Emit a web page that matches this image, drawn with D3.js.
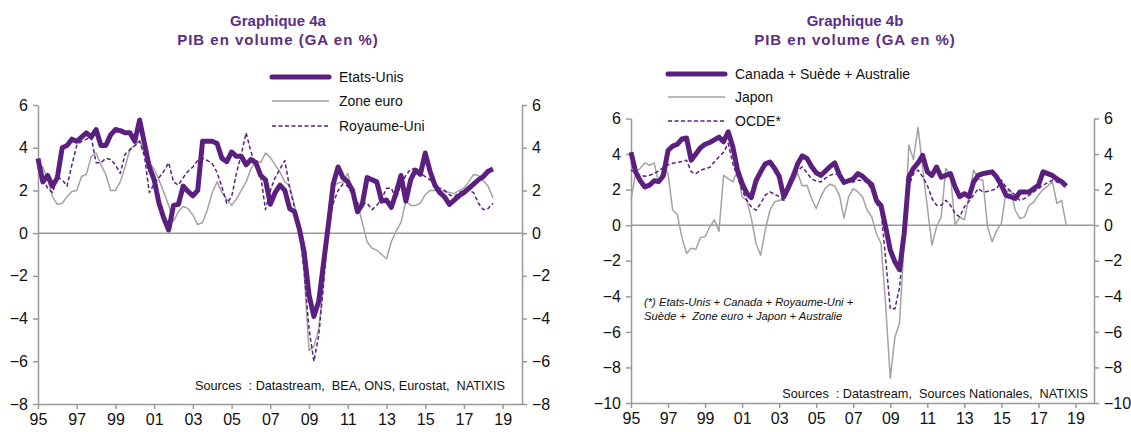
<!DOCTYPE html>
<html>
<head>
<meta charset="utf-8">
<script src="https://cdn.jsdelivr.net/npm/d3@7"></script>
<style>
  body { margin: 0; background: #fff; }
  svg { display: block; font-family: "Liberation Sans", Arial, sans-serif; }
  .axis path, .axis line { stroke: #9a9a9a; stroke-width: 1.5; }
  .axis text { font-size: 16px; fill: #111; }
  .title { font-size: 15px; font-weight: bold; fill: #5c2d84; }
  .legend text { font-size: 14px; fill: #111; }
  .note { font-size: 12.7px; fill: #111; white-space: pre; }
  .foot { font-size: 11.2px; font-style: italic; fill: #111; white-space: pre; }
</style>
</head>
<body>
<div id="chart"></div>
<script>
// quarterly YoY GDP growth, 1995Q1 .. 2018Q3
const START_YEAR = 1995;
const xTickYears = [1995, 1997, 1999, 2001, 2003, 2005, 2007, 2009, 2011, 2013, 2015, 2017, 2019];
const yTicksA = [-8, -6, -4, -2, 0, 2, 4, 6];
const yTicksB = [-10, -8, -6, -4, -2, 0, 2, 4, 6];

const etatsUnis = [
  3.5, 2.4, 2.7, 2.2,   2.6, 4.0, 4.1, 4.4,   4.3, 4.5, 4.7, 4.5,   4.85, 4.1, 4.1, 4.6,
  4.85, 4.8, 4.7, 4.7,  4.3, 5.3, 4.2, 3.1,   2.5, 1.4, 0.7, 0.15,  1.3, 1.35, 2.2, 1.95,
  1.75, 2.0, 4.3, 4.3,  4.3, 4.2, 3.5, 3.35,  3.8, 3.6, 3.6, 3.2,   3.45, 3.3, 2.7, 2.5,
  1.35, 1.9, 2.25, 2.0, 1.15, 1.0, 0.2, -0.9, -2.9, -3.9, -3.2, -1.4, 0.4, 2.3, 3.1, 2.6,
  2.4, 2.0, 1.0, 1.35,  2.6, 2.5, 2.4, 1.5,   1.55, 1.2, 1.9, 2.7,  1.5, 2.5, 2.95, 2.75,
  3.75, 2.9, 2.25, 1.9, 1.7, 1.35, 1.55, 1.75, 1.9, 2.1, 2.3, 2.5, 2.65, 2.9, 3.0
];
const zoneEuro = [
  3.0, 3.1, 2.5, 1.7,   1.35, 1.4, 1.7, 1.95, 2.0, 2.65, 2.75, 3.6, 3.75, 3.2, 2.75, 2.0,
  2.0, 2.4, 3.1, 3.95,  4.1, 4.35, 3.7, 3.3,  3.0, 2.5, 1.9, 1.3,   0.55, 1.0, 1.25, 1.15,
  0.85, 0.4, 0.5, 1.1,  1.9, 2.4, 1.9, 1.6,   1.3, 1.6, 2.0, 2.4,   3.0, 3.4, 3.3, 3.75,
  3.55, 3.2, 2.85, 2.4, 2.2, 1.3, 0.4, -1.9,  -5.5, -5.3, -4.5, -2.3, 0.9, 2.2, 2.35, 2.4,
  2.8, 1.9, 1.4, 0.5,   -0.4, -0.7, -0.8, -1.0, -1.2, -0.4, 0.1, 0.5, 1.5, 1.3, 1.3, 1.4,
  1.8, 2.0, 2.0, 2.0,   1.95, 1.9, 1.85, 2.0, 2.1, 2.4, 2.75, 2.7, 2.45, 2.2, 1.65
];
const royaumeUni = [
  3.1, 2.6, 2.1, 1.9,   2.6, 2.5, 2.2, 3.2,   4.1, 4.3, 4.4, 4.5,   3.3, 3.3, 3.5, 3.45,
  3.2, 2.8, 3.7, 3.9,   4.1, 4.3, 3.6, 1.9,   2.3, 2.6, 2.9, 3.3,   2.4, 2.25, 2.6, 2.9,
  3.1, 3.4, 3.5, 3.4,   3.25, 2.85, 2.15, 1.4, 1.7, 2.8, 3.7, 4.7,  3.8, 3.2, 2.7, 1.1,
  2.0, 2.6, 3.0, 3.4,   2.1, 1.2, 0.1, -1.8,  -4.5, -6.0, -4.8, -2.4, 0.2, 1.4, 2.0, 2.3,
  2.2, 1.8, 1.4, 1.4,   1.4, 1.1, 1.3, 1.6,   2.1, 2.1, 1.6, 2.3,   2.7, 3.0, 3.0, 2.8,
  2.65, 2.5, 2.25, 2.1, 2.0, 1.8, 1.7, 1.9,   2.0, 2.0, 1.9, 1.4,   1.1, 1.15, 1.4
];

const canSueAus = [
  4.1, 3.0, 2.5, 2.15,  2.25, 2.5, 2.45, 2.8, 4.2, 4.45, 4.55, 4.85, 4.9, 3.65, 4.0, 4.35,
  4.55, 4.65, 4.8, 4.95, 4.7, 5.25, 4.4, 3.1, 2.35, 1.8, 1.55, 2.5, 3.0, 3.45, 3.55, 3.2,
  2.75, 1.6, 2.15, 2.75, 3.45, 3.9, 3.75, 3.3, 2.95, 2.8, 3.05, 3.3, 3.5, 2.84, 2.4, 2.5,
  2.6, 2.9, 2.75, 2.5,  2.28, 1.4, 1.1, -0.1, -1.4, -2.06, -2.5, -0.47, 2.7, 3.2, 3.5, 3.93,
  3.0, 2.8, 3.27, 2.7,  2.8, 2.9, 2.15, 1.6,  1.77, 1.6, 2.43, 2.8, 2.9, 2.95, 3.0, 2.7,
  2.25, 1.68, 1.6, 1.5, 1.87, 1.87, 1.87, 2.06, 2.25, 3.0, 2.9, 2.8, 2.6, 2.45, 2.2
];
const japon = [
  1.4, 2.95, 3.2, 3.5,  3.37, 3.5, 2.34, 3.28, 2.9, 0.85, 0.6, -0.7, -1.59, -1.3, -1.35, -0.7,
  -0.65, -0.1, 0.3, -0.35, 2.8, 2.6, 2.43, 3.1, 1.59, 1.4, 0.37, -1.03, -1.69, -0.28, 0.84, 1.3,
  1.4, 1.4, 1.87, 2.43, 2.9, 2.2, 2.25, 1.5,  0.94, 1.59, 2.1, 2.3,  2.2, 1.7, 0.4, 1.6,
  2.06, 1.87, 1.6, 0.84, 0.47, -0.47, -1.03, -4.5, -8.6, -6.3, -5.5, -1.0, 4.5, 3.7, 5.5, 3.2,
  1.03, -1.12, -0.09, 0.47, 3.2, 2.8, 0.0, 0.47, 0.3, 1.6, 3.1, 2.6, 2.53, -0.09, -0.93, -0.28,
  0.1, 1.9, 1.95, 0.84, 0.37, 0.47, 1.12, 1.3, 1.7, 2.0, 2.2, 2.45, 1.22, 1.4, 0.0
];
const ocde = [
  3.1, 2.95, 2.8, 2.75, 2.81, 2.9, 3.05, 3.25, 3.4, 3.48, 3.53, 3.58, 3.65, 3.0, 2.9, 3.09,
  3.18, 3.25, 3.55, 3.85, 4.1, 4.6, 3.46, 2.72, 1.97, 1.4, 1.03, 0.84, 1.22, 1.69, 1.87, 1.75,
  1.6, 1.4, 1.97, 2.53, 3.09, 3.28, 2.95, 2.6, 2.48, 2.43, 2.65, 2.8, 2.9, 2.8, 2.43, 2.43,
  2.43, 2.53, 2.5, 2.43, 1.97, 1.22, 0.84, -1.9, -4.7, -4.7, -3.5, -0.7, 2.2, 2.9, 3.1, 2.72,
  2.25, 1.5, 1.12, 1.12, 1.4, 1.12, 0.66, 0.47, 1.03, 1.35, 1.69, 2.06, 1.87, 1.9, 1.97, 2.06,
  2.53, 2.15, 1.9, 1.69, 1.4, 1.5, 1.69, 1.87, 2.06, 2.25, 2.4, 2.53, 2.43, 2.34, 2.06
];

const PURPLE = '#5b1f80';
const GREY = '#a3a3a3';

const svg = d3.select('#chart').append('svg')
  .attr('width', 1131).attr('height', 432);

const panels = [
  {
    left: 38, right: 522, top: 105, bottom: 404,
    yDomain: [-8, 6], yTicks: yTicksA, titleX: 278,
    title: ['Graphique 4a', 'PIB en volume (GA en %)'],
    series: [
      { name: 'Etats-Unis', values: etatsUnis, style: 'thick' },
      { name: 'Zone euro', values: zoneEuro, style: 'grey' },
      { name: 'Royaume-Uni', values: royaumeUni, style: 'dash' }
    ],
    legend: { x: 272, y: [77, 101, 126] },
    source: { x: 505, y: 390, text: 'Sources  : Datastream,  BEA, ONS, Eurostat,  NATIXIS' }
  },
  {
    left: 631, right: 1094, top: 118.5, bottom: 403,
    yDomain: [-10, 6], yTicks: yTicksB, titleX: 855,
    title: ['Graphique 4b', 'PIB en volume (GA en %)'],
    series: [
      { name: 'Canada + Suède + Australie', values: canSueAus, style: 'thick' },
      { name: 'Japon', values: japon, style: 'grey' },
      { name: 'OCDE*', values: ocde, style: 'dash' }
    ],
    legend: { x: 668, y: [74, 97, 121] },
    source: { x: 1088, y: 398, text: 'Sources  : Datastream,  Sources Nationales,  NATIXIS' },
    foot: { x: 644, y: [306, 320], lines: ['(*) Etats-Unis + Canada + Royaume-Uni +', 'Suède +  Zone euro + Japon + Australie'] }
  }
];

function styleLine(sel, style) {
  if (style === 'thick') sel.attr('stroke', PURPLE).attr('stroke-width', 5);
  else if (style === 'grey') sel.attr('stroke', GREY).attr('stroke-width', 1.5);
  else sel.attr('stroke', PURPLE).attr('stroke-width', 1.5).attr('stroke-dasharray', '4,2.5');
  return sel.attr('fill', 'none').attr('stroke-linejoin', 'round');
}

panels.forEach(p => {
  const x = d3.scaleLinear().domain([START_YEAR, 2020]).range([p.left, p.right]);
  const y = d3.scaleLinear().domain(p.yDomain).range([p.bottom, p.top]);
  const g = svg.append('g');

  // titles (second line is spaced out in the original)
  p.title.forEach((t, i) => {
    g.append('text').attr('class', 'title')
      .attr('x', p.titleX).attr('y', 26 + i * 19)
      .attr('text-anchor', 'middle')
      .style('letter-spacing', i === 1 ? '1px' : null)
      .text(t);
  });

  // axes
  g.append('g').attr('class', 'axis')
    .attr('transform', `translate(${p.left},0)`)
    .call(d3.axisLeft(y).tickValues(p.yTicks).tickSize(5).tickSizeOuter(0).tickPadding(5));
  g.append('g').attr('class', 'axis')
    .attr('transform', `translate(${p.right},0)`)
    .call(d3.axisRight(y).tickValues(p.yTicks).tickSize(5).tickSizeOuter(0).tickPadding(5));
  g.append('g').attr('class', 'axis')
    .attr('transform', `translate(0,${p.bottom})`)
    .call(d3.axisBottom(x).tickValues(xTickYears).tickSize(5).tickSizeOuter(0).tickPadding(5)
      .tickFormat(d => String(d % 100).padStart(2, '0')));

  // zero line
  g.append('line')
    .attr('x1', p.left).attr('x2', p.right)
    .attr('y1', y(0)).attr('y2', y(0))
    .attr('stroke', '#9a9a9a').attr('stroke-width', 1.5);

  const line = d3.line()
    .x((d, i) => x(START_YEAR + i / 4))
    .y(d => y(d));

  // grey first, then dashed, then thick on top
  ['grey', 'dash', 'thick'].forEach(st => {
    p.series.filter(s => s.style === st).forEach(s => {
      styleLine(g.append('path').datum(s.values).attr('d', line), st);
    });
  });

  // legend
  const lg = g.append('g').attr('class', 'legend');
  p.series.forEach((s, i) => {
    const ly = p.legend.y[i];
    styleLine(lg.append('line')
      .attr('x1', p.legend.x).attr('x2', p.legend.x + 57)
      .attr('y1', ly).attr('y2', ly), s.style)
      .attr('stroke-linecap', s.style === 'thick' ? 'round' : 'butt');
    lg.append('text')
      .attr('x', p.legend.x + 67).attr('y', ly).attr('dy', '0.35em')
      .text(s.name);
  });

  g.append('text').attr('class', 'note')
    .attr('x', p.source.x).attr('y', p.source.y)
    .attr('text-anchor', 'end').text(p.source.text);

  if (p.foot) {
    p.foot.lines.forEach((t, i) => {
      g.append('text').attr('class', 'foot')
        .attr('x', p.foot.x).attr('y', p.foot.y[i]).text(t);
    });
  }
});
</script>
</body>
</html>
